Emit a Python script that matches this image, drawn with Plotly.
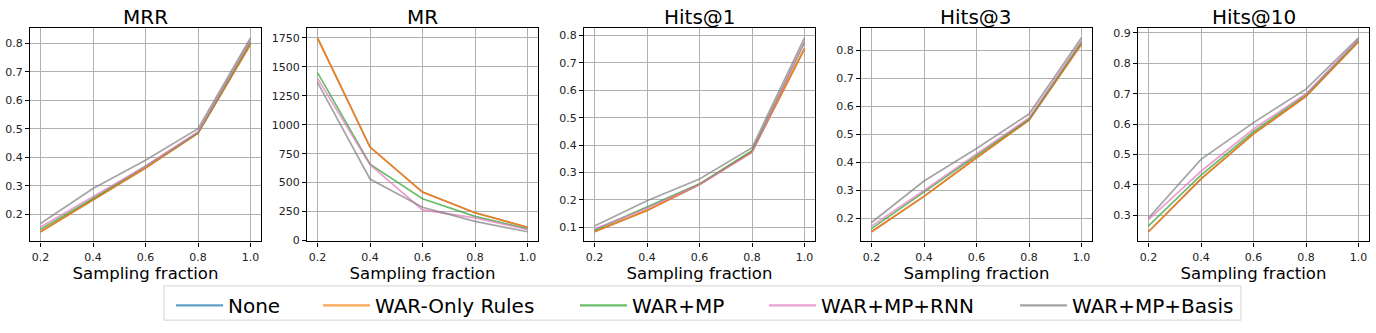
import plotly.graph_objects as go

x_frac = [0.2, 0.4, 0.6, 0.8, 1.0]
metrics = ["MRR", "MR", "Hits@1", "Hits@3", "Hits@10"]
series_names = ["None", "WAR-Only Rules", "WAR+MP", "WAR+MP+RNN", "WAR+MP+Basis"]

# values per metric for each series
none_mrr = [0.139, 0.250, 0.363, 0.485, 0.797]
only_mrr = [0.139, 0.250, 0.363, 0.485, 0.797]
mp_mrr = [0.148, 0.256, 0.369, 0.487, 0.806]
rnn_mrr = [0.156, 0.262, 0.369, 0.490, 0.812]
basis_mrr = [0.168, 0.291, 0.390, 0.501, 0.820]

none_mr = [1750, 807, 418, 240, 115]
only_mr = [1750, 807, 418, 240, 115]
mp_mr = [1450, 660, 361, 209, 102]
rnn_mr = [1400, 655, 265, 195, 95]
basis_mr = [1365, 531, 287, 166, 76]

none_h1 = [0.083, 0.161, 0.256, 0.376, 0.752]
only_h1 = [0.083, 0.161, 0.256, 0.376, 0.752]
mp_h1 = [0.089, 0.173, 0.258, 0.379, 0.774]
rnn_h1 = [0.093, 0.169, 0.256, 0.372, 0.777]
basis_h1 = [0.104, 0.196, 0.276, 0.390, 0.792]

none_h3 = [0.153, 0.279, 0.417, 0.551, 0.823]
only_h3 = [0.153, 0.279, 0.417, 0.551, 0.823]
mp_h3 = [0.164, 0.293, 0.425, 0.555, 0.830]
rnn_h3 = [0.173, 0.300, 0.431, 0.559, 0.835]
basis_h3 = [0.186, 0.334, 0.450, 0.573, 0.845]

none_h10 = [0.246, 0.420, 0.568, 0.691, 0.871]
only_h10 = [0.246, 0.420, 0.568, 0.691, 0.871]
mp_h10 = [0.265, 0.432, 0.575, 0.697, 0.876]
rnn_h10 = [0.286, 0.445, 0.584, 0.700, 0.879]
basis_h10 = [0.291, 0.484, 0.605, 0.715, 0.884]

data = {
    "MRR": [none_mrr, only_mrr, mp_mrr, rnn_mrr, basis_mrr],
    "MR": [none_mr, only_mr, mp_mr, rnn_mr, basis_mr],
    "Hits@1": [none_h1, only_h1, mp_h1, rnn_h1, basis_h1],
    "Hits@3": [none_h3, only_h3, mp_h3, rnn_h3, basis_h3],
    "Hits@10": [none_h10, only_h10, mp_h10, rnn_h10, basis_h10],
}

y_ticks = {
    "MRR": [0.2, 0.3, 0.4, 0.5, 0.6, 0.7, 0.8],
    "MR": [0, 250, 500, 750, 1000, 1250, 1500, 1750],
    "Hits@1": [0.1, 0.2, 0.3, 0.4, 0.5, 0.6, 0.7, 0.8],
    "Hits@3": [0.2, 0.3, 0.4, 0.5, 0.6, 0.7, 0.8],
    "Hits@10": [0.3, 0.4, 0.5, 0.6, 0.7, 0.8, 0.9],
}
x_tick_labels = ["0.2", "0.4", "0.6", "0.8", "1.0"]

colors = ["#1f77b4", "#ff7f0e", "#2ca02c", "#e377c2", "#7f7f7f"]
plot_opacity = [0.7, 0.95, 0.7, 0.7, 0.7]

W, H = 1376, 333
left_px = [30, 307, 584, 861, 1138]
plot_w = 231
top_px, bottom_px = 27.7, 245.6
ydom = [(H - bottom_px) / H, (H - top_px) / H]

fig = go.Figure()
font_family = "DejaVu Sans"

for i, m in enumerate(metrics):
    xa = "x" if i == 0 else f"x{i+1}"
    ya = "y" if i == 0 else f"y{i+1}"
    for j, name in enumerate(series_names):
        fig.add_trace(go.Scatter(
            x=x_frac, y=data[m][j], mode="lines", name=name,
            line=dict(color=colors[j], width=1.7), opacity=plot_opacity[j],
            xaxis=xa, yaxis=ya, showlegend=False,
        ))
    allv = [v for s in data[m] for v in s]
    lo, hi = min(allv), max(allv)
    pad = 0.05 * (hi - lo)
    xd = [left_px[i] / W, (left_px[i] + plot_w) / W]
    axis_common = dict(
        showline=True, linecolor="black", linewidth=1.2, mirror=True,
        showgrid=True, gridcolor="#b0b0b0", gridwidth=1,
        ticks="outside", ticklen=4, tickcolor="black", tickwidth=1,
        tickfont=dict(family=font_family, size=11, color="#222222"),
        zeroline=False,
    )
    xkey = "xaxis" if i == 0 else f"xaxis{i+1}"
    ykey = "yaxis" if i == 0 else f"yaxis{i+1}"
    fig.layout[xkey] = dict(
        domain=xd, anchor=ya, range=[0.16, 1.04],
        tickvals=x_frac, ticktext=x_tick_labels, ticklabelstandoff=1,
        title=dict(text="Sampling fraction", font=dict(family=font_family, size=16.5, color="black"), standoff=2),
        **axis_common,
    )
    fig.layout[ykey] = dict(
        domain=ydom, anchor=xa, range=[lo - pad, hi + pad],
        tickvals=y_ticks[m], ticktext=[str(t) for t in y_ticks[m]],
        **axis_common,
    )
    fig.add_annotation(
        text=m, x=(xd[0] + xd[1]) / 2, y=(H - 16) / H, xref="paper", yref="paper",
        xanchor="center", yanchor="middle", showarrow=False,
        font=dict(family=font_family, size=20, color="black"),
    )

# legend-only entries, each in its own legend so spacing matches the reference
legend_text_px = [228, 375, 632, 821, 1072]
legend_layout = {}
for j, name in enumerate(series_names):
    lkey = "legend" if j == 0 else f"legend{j+1}"
    fig.add_trace(go.Scatter(
        x=[None], y=[None], mode="lines", name=name,
        line=dict(color=colors[j], width=2.2), opacity=0.7,
        showlegend=True, legend=lkey, hoverinfo="skip",
    ))
    legend_layout[lkey] = dict(
        orientation="h", x=(legend_text_px[j] - 57) / W, xanchor="left",
        y=(H - 311) / H, yanchor="middle",
        font=dict(family=font_family, size=20, color="black"),
        borderwidth=0, bgcolor="rgba(0,0,0,0)", itemwidth=47,
    )

fig.add_shape(
    type="rect", xref="paper", yref="paper",
    x0=164 / W, x1=1241 / W, y0=(H - 326) / H, y1=(H - 291) / H,
    line=dict(color="#d3d3d3", width=1), fillcolor="rgba(0,0,0,0)",
)

fig.update_layout(
    width=W, height=H, autosize=False,
    margin=dict(l=0, r=0, t=0, b=0),
    paper_bgcolor="white", plot_bgcolor="white",
    font=dict(family=font_family),
    **legend_layout,
)

fig.write_html("out.html", config={"displayModeBar": False},
               post_script="document.body.style.margin='0';")
